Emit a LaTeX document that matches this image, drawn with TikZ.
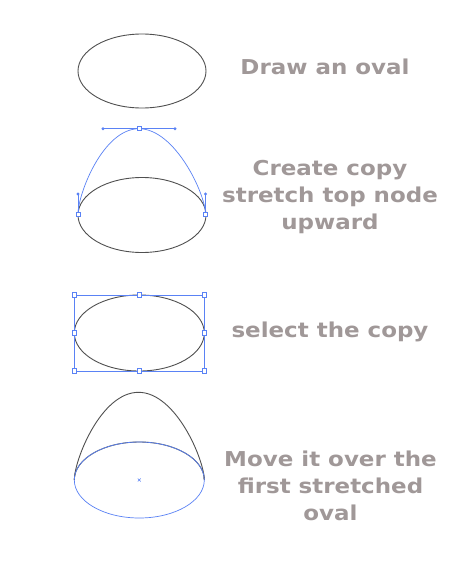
\documentclass[tikz,border=0pt]{standalone}
\usepackage{fontspec}
\setmainfont{DejaVu Sans}[FakeStretch=1.12]
\definecolor{txtgray}{RGB}{160,152,152}
\definecolor{selblue}{RGB}{90,130,245}
\definecolor{linegray}{RGB}{80,80,80}
\tikzset{
  oval/.style={linegray,line width=0.9pt},
  handle/.style={selblue,line width=0.7pt},
  caption/.style={txtgray,font=\fontsize{20.5}{27}\selectfont\bfseries,align=center,anchor=base}
}
\begin{document}
\begin{tikzpicture}[x=1pt,y=-1pt]
\useasboundingbox[fill=white] (0,0) rectangle (450,576);

% draw an oval
\draw[oval] (142,71) ellipse [x radius=64, y radius=37];
\node[caption] (t1) at (325,74.3) {Draw an oval};

% copy, top node pulled up
\draw[oval] (142,215) ellipse [x radius=64, y radius=37.5];
\begin{scope}[handle]
\draw (78,214) .. controls (78,194) and (103,128.7) .. (139,128.7)
  .. controls (175,128.7) and (205.5,194) .. (205.5,214);
\draw (103,128.7) -- (175,128.7);
\draw (78,214) -- (78,194);
\draw (205.5,214) -- (205.5,194);
\foreach \x/\y in {103/128.7,175/128.7,78/194,205.5/194}
\fill (\x,\y) circle (1.6pt);
\foreach \x/\y in {139/128.7,78/214,205.5/214}
\draw[fill=white] (\x-2,\y-2) rectangle (\x+2,\y+2);
\end{scope}
% base of a multi-line node sits on its last line
\node[caption] (t2) at (330,229.7) {Create copy\\stretch top node\\upward};

% selected copy
\draw[oval] (139.3,333) ellipse [x radius=65, y radius=38];
\begin{scope}[handle]
\draw (74.3,295) rectangle (204.3,371);
\foreach \x/\y in {74.3/295,139.3/295,204.3/295,74.3/333,204.3/333,74.3/371,139.3/371,204.3/371}
\draw[fill=white] (\x-2.3,\y-2.3) rectangle (\x+2.3,\y+2.3);
\end{scope}
\node[caption] (t3) at (330,337.3) {select the copy};

% copy moved over the stretched oval
\draw[oval] (74.3,480) .. controls (74.3,460) and (101,392.3) .. (138.5,392.3)
  .. controls (176,392.3) and (204.3,460) .. (204.3,480);
\draw[oval] (74.3,480) arc[start angle=180, end angle=360, x radius=65, y radius=38];
\begin{scope}[handle]
\draw (139.3,480) ellipse [x radius=65, y radius=38];
\draw[line width=0.5pt] (137.8,478.5) -- (140.8,481.5) (137.8,481.5) -- (140.8,478.5);
\end{scope}
\node[caption] (t4) at (330.5,520.7) {Move it over the\\first stretched\\oval};

\end{tikzpicture}
\end{document}
